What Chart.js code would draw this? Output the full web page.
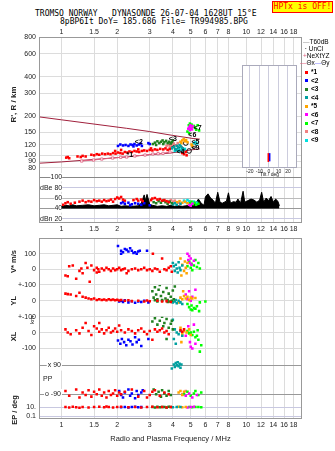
<!DOCTYPE html>
<html>
<head>
<meta charset="utf-8">
<script src="https://cdn.jsdelivr.net/npm/chart.js@4.4.0/dist/chart.umd.min.js"></script>
<style>
body { margin:0; background:#fff; width:335px; height:451px; position:relative; overflow:hidden; }
canvas { position:absolute; }
.ttl { position:absolute; font:8px "DejaVu Sans Mono", monospace; color:#000; white-space:pre; line-height:9px; }
#hptx { position:absolute; left:272px; top:1px; width:59px; height:10px; background:#ffff00; border:1px solid #ff0000; color:#ff0000; font:8px "DejaVu Sans Mono", monospace; line-height:10px; text-align:center; }
.lg { position:absolute; left:303px; font:6.5px "Liberation Sans", sans-serif; color:#000; white-space:nowrap; line-height:7px; }
.sq { display:inline-block; width:3px; height:3px; margin:0 3px 0 2px; vertical-align:middle; }
.rot { position:absolute; transform:translate(-50%,-50%) rotate(-90deg); white-space:nowrap; font:bold 7.5px "Liberation Sans", sans-serif; color:#222; }
.txt { position:absolute; white-space:nowrap; font:7px "Liberation Sans", sans-serif; color:#222; }
</style>
</head>
<body>
<div class="ttl" style="left:35px;top:9px">TROMSO NORWAY   DYNASONDE 26-07-04 1628UT 15°E</div>
<div class="ttl" style="left:60px;top:17px">8pBP6It DoY= 185.686 File= TR994985.BPG</div>
<div id="hptx">HPTx is OFF!</div>

<canvas id="top" width="335" height="235" style="left:0;top:0"></canvas>
<canvas id="low" width="335" height="223" style="left:0;top:228px"></canvas>
<canvas id="tilt" width="66" height="122" style="left:236px;top:60px"></canvas>

<div class="lg" style="top:38px"><span style="color:#999">—</span>T60dB</div>
<div class="lg" style="top:45px"><span>&nbsp;·&nbsp;</span>UnCl</div>
<div class="lg" style="top:52px"><span style="color:#e0607f">+</span>NeXtYZ</div>
<div class="lg" style="top:59px;left:300px"><span style="color:#e0607f">—</span>Θx<span style="color:#8080ff">—</span>Θy</div>
<div id="legend"></div>

<div class="rot" style="left:32px;top:320px;font-weight:normal;font-size:6px">km</div>
<div class="txt" style="left:43px;top:375px">PP</div>
<div class="rot" style="left:14px;top:410px">EP / deg</div>

<script>
// frequency axis (MHz, log)
const FMIN = 0.755, FMAX = 20;
const freqTicks = [1, 1.5, 2, 3, 4, 5, 6, 7, 8, 10, 12, 14, 16, 18];
const freqTicksMid = [1, 1.5, 2, 3, 4, 5, 6, 7, 8, 9, 10, 12, 14, 16, 18];

// y tick values and labels
const heightTicks = [80, 90, 100, 120, 150, 200, 300, 400, 600, 800];
const dbTicks = [100, 80, 60, 40, 20];
const dbLabels = ['100', 'dBe 80', '60', '40', 'dBn 20'];
const vTicks = [100, 0];
const vLabels = ['100', '0'];
const ylTicks = [100, 0];
const ylLabels = ['+-100', '0'];
const xlTicks = [100, 0, -100];
const xlLabels = ['+-100', '0', '-100'];
const ppTicks = [90, -90];
const ppLabels = ['x 90', 'o -90'];
const epTicks = [10, 0.1];
const epLabels = ['10.', '0.1'];
const tiltTicks = [-20, -10, 0, 10, 20];

// echo groups
const echoNames = ['*1', '<2', '<3', '<4', '*5', '<6', '<7', '<8', '<9'];
const echoColors = ['#ff0000', '#0000ff', '#208020', '#00a0a0', '#ffa500', '#ff00ff', '#00ff00', '#f08080', '#00e0e0'];

// virtual height (MHz, km) per echo
const heightEcho = [
  [[1.06,96],[1.08,97],[1.10,95],[1.22,98],[1.27,97],[1.30,99],[1.35,98],[1.45,101],[1.50,100],[1.55,102],[1.60,101],[1.66,103],[1.72,102],[1.78,103],[1.84,102],[1.90,104],[1.96,103],[2.02,105],[2.08,104],[2.14,103],[2.20,106],[2.27,105],[2.33,107],[2.40,106],[2.48,108],[2.55,107],[2.63,106],[2.72,108],[2.80,109],[2.90,108],[3.00,110],[3.10,109],[3.20,111],[3.30,110],[3.42,112],[3.55,111],[3.65,113],[3.75,110],[3.85,112],[4.50,104],[4.60,102],[4.70,106],[4.75,100],[2.10,110],[1.95,108],[2.60,111],[3.05,113]],
  [[2.02,118],[2.08,121],[2.15,119],[2.22,120],[2.30,118],[2.36,121],[2.42,120],[2.48,122],[2.55,119],[2.62,121],[2.68,123],[2.72,118],[2.95,124],[3.00,122],[2.45,117]],
  [[3.12,122],[3.2,125],[3.3,128],[3.38,124],[3.45,127],[3.52,130],[3.6,126],[3.68,129],[3.75,124],[3.82,127],[3.9,123],[3.95,126],[4.0,130],[3.55,122],[3.25,120]],
  [[3.95,113],[4.05,116],[4.12,112],[4.2,118],[4.28,115],[4.35,120],[4.42,117],[4.5,113],[4.6,110],[4.15,110],[4.3,108]],
  [[4.4,127],[4.5,130],[4.58,133],[4.65,128],[4.72,131],[4.8,126],[5.05,121],[5.1,118],[4.45,124]],
  [[4.85,160],[4.92,165],[4.98,170],[5.02,163],[5.08,158],[4.95,156],[5.12,167]],
  [[4.8,152],[4.88,170],[4.95,175],[5.0,160],[5.05,172],[5.12,165],[5.2,168],[5.28,162],[5.35,157],[5.45,170],[5.55,155],[4.9,148]],
  [[3.7,118],[3.78,121],[3.85,117],[3.95,120],[4.05,123],[4.15,119],[4.25,124]],
  [[4.1,108],[4.2,110],[4.35,111],[4.5,109],[4.65,112],[5.2,124],[5.3,126],[5.4,123]]
];
const ringPts = [[4.15,116],[4.45,112],[4.7,124],[5.2,118],[3.95,121],[4.9,108]];
const upperCurve = [[0.755,197],[1.0,187],[2.25,161],[3.0,152],[4.0,142],[5.15,134.5],[5.6,133]];
const lowerCurve = [[0.755,87],[1.0,89],[1.5,93],[2.0,96],[3.0,101],[3.86,104],[4.5,107],[5.0,110],[5.6,112]];
const pinkCurve = [[1.285,90.4],[1.49,92],[1.65,93.6],[1.89,95.3],[2.09,96.5],[2.25,97],[2.49,98.8],[2.83,100.5],[3.12,102.3],[3.33,102.9],[3.54,103.5],[3.86,106]];
const heightTags = [['*1',2.34,100],['<2',2.62,127],['<3',4.0,133],['<4',4.4,106],['<5',5.3,126],['<6',5.1,143],['<7',5.45,162],['<9',5.3,114]];

// amplitude (MHz, dB)
const noiseDb = [[1.0,44],[1.05,46],[1.1,45],[1.15,47],[1.2,45],[1.3,46],[1.4,47],[1.5,45],[1.6,46],[1.7,47],[1.8,45],[1.9,46],[2.0,47],[2.1,44],[2.2,45],[2.4,44],[2.6,45],[2.7,50],[2.8,66],[2.85,55],[2.9,67],[3.0,48],[3.1,46],[3.3,44],[3.5,45],[3.7,44],[3.9,46],[4.1,44],[4.3,45],[4.5,44],[4.7,45],[5.0,46],[5.3,48],[5.5,58],[5.7,50],[5.9,46],[6.0,62],[6.2,68],[6.4,60],[6.6,56],[6.8,50],[7.0,71],[7.2,52],[7.4,50],[7.8,54],[8.0,70],[8.2,50],[8.5,53],[8.8,52],[9.0,58],[9.3,50],[9.6,73],[9.8,52],[10.2,55],[10.6,58],[11.0,56],[11.4,52],[11.8,56],[12.1,71],[12.4,52],[12.8,60],[13.2,55],[13.6,63],[14.0,52],[14.4,58],[14.8,54],[15.1,45]];
const dbEcho = [
  [[1.02,47],[1.05,50],[1.08,52],[1.12,49],[1.18,51],[1.25,53],[1.3,55],[1.35,52],[1.4,54],[1.45,53],[1.5,56],[1.55,54],[1.6,55],[1.65,53],[1.7,56],[1.75,54],[1.8,55],[1.85,57],[1.9,53],[1.95,58],[2.0,61],[2.05,59],[2.1,62],[2.15,57],[2.2,55],[2.45,56],[2.55,58],[2.6,55],[2.7,57],[2.75,54],[3.05,56],[3.1,59],[3.2,60],[3.3,57],[3.4,58],[3.5,55],[3.6,56],[3.7,54],[3.8,52]],
  [[2.1,50],[2.15,52],[2.2,49],[2.3,51],[2.4,48],[2.5,50],[2.6,49],[2.7,47],[2.8,50],[3.0,46],[2.35,46]],
  [[3.15,52],[3.25,50],[3.35,54],[3.45,51],[3.55,55],[3.65,52],[3.75,49],[3.85,53],[3.95,50]],
  [[4.0,48],[4.1,50],[4.2,47],[4.4,49]],
  [[4.2,52],[4.35,54],[4.5,51],[4.65,53],[4.8,50]],
  [[4.9,47],[5.0,45],[5.1,49]],
  [[4.95,50],[5.05,53],[5.15,48],[5.25,51],[5.35,47],[5.5,49]],
  [[3.8,54],[3.9,56],[4.0,53],[4.1,55],[4.3,51]],
  [[4.6,55],[4.7,52],[4.8,56],[4.9,54],[5.2,53],[5.4,51]]
];

// V* (m/s)
const vEcho = [
  [[1.05,-40],[1.08,-45],[1.1,20],[1.15,25],[1.2,-60],[1.25,-10],[1.28,5],[1.3,-25],[1.35,40],[1.38,10],[1.42,-80],[1.45,25],[1.5,-5],[1.55,10],[1.58,0],[1.6,-15],[1.65,5],[1.7,-5],[1.75,10],[1.8,0],[1.85,-10],[1.9,5],[1.95,-5],[2.0,0],[2.05,10],[2.1,-5],[2.15,0],[2.2,5],[2.25,-25],[2.3,-10],[2.4,0],[2.5,5],[2.6,-5],[2.7,0],[2.8,10],[2.9,-5],[3.0,0],[3.1,-10],[3.12,100],[3.2,5],[3.3,0],[3.4,-15],[3.5,70],[3.6,0],[3.7,-5],[3.8,10],[3.9,20],[3.95,-15],[1.55,-20]],
  [[2.02,150],[2.1,120],[2.15,110],[2.2,130],[2.25,125],[2.3,115],[2.35,135],[2.4,120],[2.45,105],[2.5,110],[2.55,100],[2.6,115],[2.65,120],[2.1,100],[2.9,120]],
  [],
  [[4.0,40],[4.05,20],[4.1,-10],[4.15,30],[4.2,5],[4.25,-20],[4.3,45],[4.35,10],[4.4,-5],[4.5,25]],
  [[4.4,70],[4.45,-40],[4.5,30],[4.6,-10],[4.65,50],[4.7,10],[4.75,-25],[4.8,40]],
  [[4.8,100],[4.85,60],[4.9,85],[4.95,40],[5.0,70],[5.05,30],[5.2,55]],
  [[4.8,20],[4.9,50],[5.0,10],[5.05,35],[5.1,-5],[5.2,25],[5.3,60],[5.4,15],[5.5,40],[5.6,5]],
  [], []
];

// YL (km)
const ylEcho = [
  [[1.05,45],[1.08,42],[1.12,40],[1.2,30],[1.25,50],[1.3,25],[1.35,20],[1.4,15],[1.45,10],[1.5,15],[1.55,5],[1.6,10],[1.65,5],[1.7,8],[1.75,3],[1.8,10],[1.85,5],[1.9,8],[1.95,3],[2.0,6],[2.05,2],[2.1,5],[2.2,0],[2.3,3],[2.4,-2],[2.6,0],[2.8,-5],[2.9,2],[3.0,-3],[3.3,0],[3.5,-5],[3.7,-2],[3.9,-8]],
  [[2.05,-5],[2.1,0],[2.15,-8],[2.2,3],[2.3,-10],[2.4,-3],[2.5,-12],[2.6,-5],[2.7,-8],[2.8,0],[2.95,-10]],
  [[3.1,60],[3.15,20],[3.2,85],[3.25,40],[3.3,10],[3.35,70],[3.4,100],[3.45,30],[3.5,0],[3.55,55],[3.6,120],[3.65,15],[3.7,80],[3.75,5],[3.8,45],[3.85,-5],[3.9,25],[3.95,0],[4.0,65],[4.05,10],[3.3,-5],[3.5,5],[3.75,-8],[3.2,3],[4.1,90]],
  [[4.0,-10],[4.1,-5],[4.2,-15],[4.3,0],[4.4,-10],[4.5,-20],[4.15,5]],
  [[4.4,20],[4.5,10],[4.6,30],[4.7,15],[4.8,25],[4.9,5],[5.0,20],[5.1,15],[5.3,18],[4.3,-10],[4.55,60]],
  [[4.7,40],[4.8,10],[4.9,60],[5.0,0],[5.1,25],[5.3,70]],
  [[4.8,-20],[4.9,-40],[5.0,-55],[5.05,-30],[5.1,-60],[5.2,-45],[5.3,-50],[5.4,-35],[5.6,-10],[6.0,-5],[5.55,-65]],
  [], []
];

// XL (km)
const xlEcho = [
  [[1.05,20],[1.08,0],[1.12,-10],[1.2,15],[1.25,-5],[1.3,30],[1.35,60],[1.4,10],[1.45,-15],[1.5,40],[1.55,25],[1.6,5],[1.65,20],[1.7,-5],[1.75,15],[1.8,30],[1.85,0],[1.9,10],[1.95,25],[2.0,5],[2.1,15],[2.2,0],[2.3,20],[2.4,10],[2.5,-5],[2.6,15],[2.7,25],[2.8,5],[2.9,-10],[3.0,10],[3.1,-45],[3.2,20],[3.3,5],[3.4,15],[3.5,25],[3.6,0],[3.7,10],[3.8,-10],[4.4,15],[4.5,5],[4.6,20],[1.6,60],[2.05,45]],
  [[2.02,-50],[2.08,-70],[2.12,-40],[2.18,-60],[2.24,-80],[2.3,-45],[2.36,-55],[2.42,-75],[2.5,-30],[2.55,-60],[2.62,-45],[2.7,-85],[2.95,-40]],
  [[3.1,70],[3.2,90],[3.3,50],[3.4,75],[3.5,100],[3.55,40],[3.6,60],[3.7,85],[3.8,30],[3.9,55],[4.0,20],[3.95,75],[3.7,-40],[3.25,110]],
  [[4.0,80],[4.1,20],[4.2,0],[4.3,-10],[4.4,10],[4.5,-20],[4.05,-40],[4.15,-70]],
  [[4.4,30],[4.5,-10],[4.6,10],[4.75,0],[4.9,20],[5.0,-15],[4.45,-60]],
  [[4.7,-20],[4.85,40],[4.95,-60],[5.0,-90],[5.1,-100],[5.3,-70],[5.2,50]],
  [[4.8,10],[4.9,-5],[5.0,0],[5.1,-15],[5.2,5],[5.3,-30],[5.4,-20],[5.5,-45],[5.7,-80],[5.45,15],[5.6,-120]],
  [], []
];

// PP (deg)
const ppEcho = [
  [[1.05,-70],[1.1,-100],[1.2,-60],[1.25,-110],[1.3,-80],[1.35,-95],[1.4,-65],[1.45,-105],[1.5,-75],[1.55,-90],[1.6,-60],[1.65,-100],[1.7,-80],[1.75,-110],[1.8,-70],[1.85,-95],[1.9,-85],[1.95,-65],[2.0,-100],[2.05,-80],[2.1,-90],[2.2,-75],[2.4,-60],[2.6,-105],[2.8,-70],[3.0,-95],[3.2,-65],[3.4,-100],[3.6,-80],[3.8,-90],[2.9,-110],[3.1,-75]],
  [[2.05,-70],[2.1,-95],[2.15,-110],[2.2,-80],[2.3,-60],[2.35,-100],[2.4,-85],[2.5,-115],[2.55,-70],[2.6,-95],[2.7,-80],[2.75,-65]],
  [[3.15,-60],[3.25,-90],[3.35,-75],[3.45,-105],[3.5,-65],[3.6,-85],[3.7,-100],[3.8,-70],[3.9,-95]],
  [[4.05,95],[4.1,80],[4.15,105],[4.2,90],[4.25,110],[4.3,85],[4.35,100],[4.4,75],[4.45,95],[3.95,70]],
  [[4.3,-80],[4.4,-70],[4.5,-95],[4.6,-75]],
  [[4.7,-100],[4.9,-85],[5.1,-110],[5.4,-95]],
  [[4.6,-90],[4.8,-75],[5.0,-100],[5.2,-85],[5.3,-70],[5.5,-95],[5.7,-80]],
  [[4.5,-90],[4.7,-70]],
  []
];

// EP (deg, log)
const epEcho = [
  [[1.05,10],[1.1,8],[1.15,12],[1.2,9],[1.25,7],[1.3,11],[1.4,8],[1.5,10],[1.6,12],[1.7,9],[1.75,14],[1.8,11],[1.9,8],[2.0,10],[2.1,12],[2.3,9],[2.5,11],[2.7,8],[2.9,10],[3.1,12],[3.3,9],[3.5,11],[3.7,8],[3.9,10]],
  [[2.1,9],[2.2,11],[2.3,8],[2.4,10],[2.5,12],[2.6,9],[2.7,11]],
  [[3.1,10],[3.2,8],[3.3,12],[3.4,9],[3.5,11],[3.6,10],[3.7,8],[3.8,12],[3.9,10]],
  [[4.0,9],[4.2,11],[4.4,10]],
  [[4.3,12],[4.5,9],[4.7,11]],
  [[4.8,8],[5.0,10],[5.2,12]],
  [[4.9,10],[5.1,9],[5.3,11],[5.5,10],[5.7,9]],
  [], []
];

// tilt inset (deg, km)
const tiltRed = [[-0.7,89],[-0.7,104]];
const tiltBlue = [[0.7,90],[0.7,104]];

const FONT = '"Liberation Sans", Arial, sans-serif';
const tickFont = { family: FONT, size: 7 };
const xy = a => a.map(p => ({ x: p[0], y: p[1] }));

function dots(arr, color, yid) {
  return { data: xy(arr), yAxisID: yid, showLine: false, pointStyle: 'rect',
    pointRadius: 1.8, pointBorderWidth: 0, pointBackgroundColor: color, borderColor: color };
}
function fixedTicks(list) {
  return s => { s.ticks = list.map(v => ({ value: v })); };
}
function labelFrom(list, labels) {
  return v => { const i = list.indexOf(v); return i < 0 ? '' : labels[i]; };
}

const framePlugin = {
  id: 'frame',
  beforeDraw(chart, args, opts) {
    if (!opts.fill) return;
    const a = chart.chartArea, ctx = chart.ctx;
    ctx.save(); ctx.fillStyle = opts.fill;
    ctx.fillRect(a.left, a.top, a.right - a.left, a.bottom - a.top);
    ctx.restore();
  },
  afterDraw(chart, args, opts) {
    const a = chart.chartArea, ctx = chart.ctx;
    ctx.save();
    ctx.strokeStyle = opts.color || '#999';
    ctx.lineWidth = 1;
    ctx.strokeRect(Math.round(a.left) + 0.5, Math.round(a.top) + 0.5, Math.round(a.right - a.left) - 1, Math.round(a.bottom - a.top) - 1);
    ctx.restore();
  }
};

const tagPlugin = {
  id: 'tags',
  afterDatasetsDraw(chart) {
    const { ctx, scales } = chart;
    if (!scales.yh) return;
    ctx.save();
    ctx.font = 'bold 7px ' + FONT;
    ctx.fillStyle = '#000';
    ctx.textAlign = 'center';
    ctx.textBaseline = 'middle';
    heightTags.forEach(t => {
      ctx.fillText(t[0], scales.x.getPixelForValue(t[1]), scales.yh.getPixelForValue(t[2]));
    });
    ctx.restore();
  }
};

Chart.defaults.font.family = FONT;
Chart.defaults.color = '#222';

// ---------- top chart: height + amplitude ----------
const topSets = [];
heightEcho.forEach((a, i) => topSets.push(dots(a, echoColors[i], 'yh')));
dbEcho.forEach((a, i) => topSets.push(dots(a, echoColors[i], 'ydb')));
topSets.push({ data: xy(ringPts), yAxisID: 'yh', showLine: false, pointStyle: 'circle', pointRadius: 2.3,
  pointBorderWidth: 0.9, pointBorderColor: '#000', pointBackgroundColor: 'rgba(0,0,0,0)' });
topSets.push({ data: xy(pinkCurve), yAxisID: 'yh', showLine: true, borderColor: '#e0607f', borderWidth: 1,
  pointStyle: 'rect', pointRadius: 1.6, pointBorderWidth: 0.8, pointBorderColor: '#e0607f', pointBackgroundColor: '#fff' });
topSets.push({ data: xy(lowerCurve), yAxisID: 'yh', showLine: true, borderColor: '#a0203c', borderWidth: 1, pointRadius: 0 });
topSets.push({ data: xy(upperCurve), yAxisID: 'yh', showLine: true, borderColor: '#a0203c', borderWidth: 1, pointRadius: 0 });
topSets.push({ data: xy(noiseDb), yAxisID: 'ydb', showLine: true, borderColor: '#000', borderWidth: 1,
  backgroundColor: '#000', fill: { value: 40 }, pointRadius: 0 });

new Chart(document.getElementById('top'), {
  type: 'scatter',
  data: { datasets: topSets },
  options: {
    responsive: false, animation: false, devicePixelRatio: 1, events: [],
    layout: { padding: { left: 0, right: 33, top: 0, bottom: 0 } },
    plugins: { legend: { display: false }, tooltip: { enabled: false }, frame: { color: '#999' } },
    scales: {
      x: {
        type: 'logarithmic', position: 'top', min: FMIN, max: FMAX,
        afterBuildTicks: fixedTicks(freqTicks), afterFit: s => { s.height = 37; },
        ticks: { font: tickFont, padding: 1, maxRotation: 0, autoSkip: false, callback: v => String(v) },
        grid: { color: '#dcdcdc', drawTicks: false }, border: { display: false }
      },
      x2: {
        type: 'logarithmic', position: 'bottom', min: FMIN, max: FMAX,
        afterBuildTicks: fixedTicks(freqTicksMid), afterFit: s => { s.height = 12; },
        ticks: { font: tickFont, padding: 2, maxRotation: 0, autoSkip: false, callback: v => String(v) },
        grid: { display: false, drawTicks: false }, border: { display: false }
      },
      yh: {
        type: 'logarithmic', position: 'left', stack: 'top', stackWeight: 135, weight: 2,
        min: 74.5, max: 806,
        afterBuildTicks: fixedTicks(heightTicks), afterFit: s => { s.width = 39; },
        ticks: { font: tickFont, padding: 3, autoSkip: false, callback: v => String(v) },
        grid: { color: '#dcdcdc', drawTicks: false }, border: { display: false },
        title: { display: true, text: "R', R / km", font: { family: FONT, size: 8, weight: 'bold' }, padding: { top: 9, bottom: 0 } }
      },
      ydb: {
        type: 'linear', position: 'left', stack: 'top', stackWeight: 51, weight: 1,
        min: 12, max: 110,
        afterBuildTicks: fixedTicks(dbTicks), afterFit: s => { s.width = 39; },
        ticks: { font: tickFont, padding: 1, mirror: true, crossAlign: 'far', autoSkip: false,
          showLabelBackdrop: true, backdropColor: '#fff', backdropPadding: 0,
          callback: labelFrom(dbTicks, dbLabels) },
        grid: { drawTicks: false, color: c => ['#888', '#c8c8e0', '#bbb', '#999', '#c8c8e0'][dbTicks.indexOf(c.tick.value)] || '#ccc' },
        border: { display: false }
      }
    }
  },
  plugins: [framePlugin, tagPlugin]
});

// ---------- tilt inset ----------
new Chart(document.getElementById('tilt'), {
  type: 'scatter',
  data: { datasets: [
    { data: xy(tiltRed), showLine: true, borderColor: '#ff0000', borderWidth: 1.6, pointRadius: 0 },
    { data: xy(tiltBlue), showLine: true, borderColor: '#0000ff', borderWidth: 1.6, pointRadius: 0 }
  ] },
  options: {
    responsive: false, animation: false, devicePixelRatio: 1, events: [],
    layout: { padding: { left: 6, right: 5, top: 5, bottom: 0 } },
    plugins: { legend: { display: false }, tooltip: { enabled: false }, frame: { color: '#aab', fill: '#fff' } },
    scales: {
      x: {
        type: 'linear', min: -28.4, max: 29.5,
        afterBuildTicks: fixedTicks(tiltTicks), afterFit: s => { s.height = 14; },
        ticks: { font: { family: FONT, size: 5 }, padding: 1, maxRotation: 0, autoSkip: false },
        grid: { color: '#ccd', drawTicks: false }, border: { display: false },
        title: { display: true, text: 'Tilt / deg', font: { family: FONT, size: 5 }, padding: { top: 0, bottom: 4 } }
      },
      y: { type: 'logarithmic', min: 80, max: 492, display: false }
    }
  },
  plugins: [framePlugin]
});

// ---------- lower chart: V*, YL, XL, PP, EP ----------
const lowSets = [];
[['yv', vEcho], ['yyl', ylEcho], ['yxl', xlEcho], ['ypp', ppEcho], ['yep', epEcho]].forEach(([id, group]) => {
  group.forEach((a, i) => { if (a.length) lowSets.push(dots(a, echoColors[i], id)); });
});

function stackAxis(extra) {
  return Object.assign({
    position: 'left', stack: 'low', afterFit: s => { s.width = 39; },
    grid: { color: '#dcdcdc', drawTicks: false }, border: { display: false }
  }, extra);
}
const yTitle = (t) => ({ display: true, text: t, font: { family: FONT, size: 7.5, weight: 'bold' }, padding: { top: 9, bottom: 0 } });

new Chart(document.getElementById('low'), {
  type: 'scatter',
  data: { datasets: lowSets },
  options: {
    responsive: false, animation: false, devicePixelRatio: 1, events: [],
    layout: { padding: { left: 0, right: 33, top: 9, bottom: 0 } },
    plugins: { legend: { display: false }, tooltip: { enabled: false }, frame: { color: '#999' } },
    scales: {
      x: {
        type: 'logarithmic', position: 'bottom', min: FMIN, max: FMAX,
        afterBuildTicks: fixedTicks(freqTicks), afterFit: s => { s.height = 32; },
        ticks: { font: tickFont, padding: 2, maxRotation: 0, autoSkip: false, callback: v => String(v) },
        grid: { color: '#dcdcdc', drawTicks: false }, border: { display: false },
        title: { display: true, text: 'Radio and Plasma Frequency / MHz', font: { family: FONT, size: 7.5 }, padding: { top: 0, bottom: 8 } }
      },
      yv: stackAxis({ type: 'linear', stackWeight: 47, weight: 5, min: -100, max: 200,
        afterBuildTicks: fixedTicks(vTicks),
        ticks: { font: tickFont, padding: 3, autoSkip: false, callback: labelFrom(vTicks, vLabels) },
        title: yTitle('V* m/s') }),
      yyl: stackAxis({ type: 'linear', stackWeight: 32, weight: 4, min: -100, max: 100,
        afterBuildTicks: fixedTicks(ylTicks),
        ticks: { font: tickFont, padding: 3, autoSkip: false, callback: labelFrom(ylTicks, ylLabels) },
        title: yTitle('YL') }),
      yxl: stackAxis({ type: 'linear', stackWeight: 40, weight: 3, min: -150, max: 100,
        afterBuildTicks: fixedTicks(xlTicks),
        ticks: { font: tickFont, padding: 3, autoSkip: false, callback: labelFrom(xlTicks, xlLabels) },
        title: yTitle('XL') }),
      ypp: stackAxis({ type: 'linear', stackWeight: 44, weight: 2, min: -127, max: 146,
        afterBuildTicks: fixedTicks(ppTicks),
        ticks: { font: tickFont, padding: 6, mirror: true, crossAlign: 'far', autoSkip: false,
          showLabelBackdrop: true, backdropColor: '#fff', backdropPadding: 1,
          callback: labelFrom(ppTicks, ppLabels) },
        grid: { color: '#999', drawTicks: false } }),
      yep: stackAxis({ type: 'logarithmic', stackWeight: 19, weight: 1, min: 0.022, max: 360,
        afterBuildTicks: fixedTicks(epTicks),
        ticks: { font: tickFont, padding: 3, autoSkip: false, callback: labelFrom(epTicks, epLabels) },
        grid: { color: '#c8c8e0', drawTicks: false } })
    }
  },
  plugins: [framePlugin]
});

// legend for echo groups
const lg = document.getElementById('legend');
echoNames.forEach((n, i) => {
  const d = document.createElement('div');
  d.className = 'lg';
  d.style.top = (68 + i * 8.5) + 'px';
  d.innerHTML = '<span class="sq" style="background:' + echoColors[i] + '"></span><b>' + n + '</b>';
  lg.appendChild(d);
});
</script>
</body>
</html>
